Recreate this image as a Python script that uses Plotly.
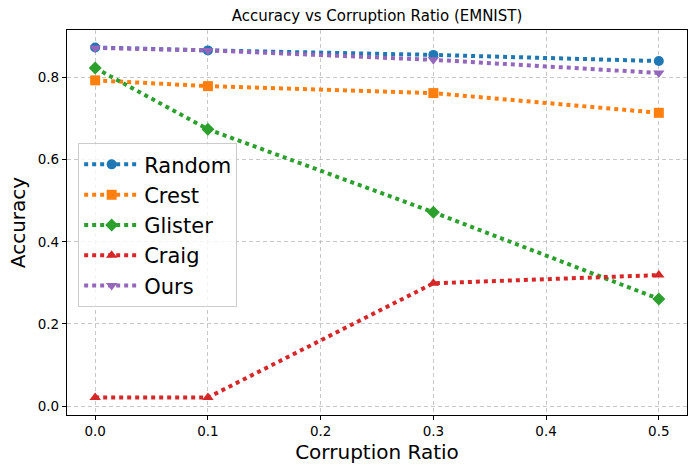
import plotly.graph_objects as go

ratios = [0.0, 0.1, 0.3, 0.5]
random_acc = [0.873, 0.866, 0.855, 0.840]
crest_acc = [0.793, 0.779, 0.762, 0.714]
glister_acc = [0.823, 0.674, 0.472, 0.261]
craig_acc = [0.021, 0.021, 0.299, 0.319]
ours_acc = [0.872, 0.866, 0.843, 0.811]

series = [
    ("Random", random_acc, "#1f77b4", "circle"),
    ("Crest", crest_acc, "#ff7f0e", "square"),
    ("Glister", glister_acc, "#2ca02c", "diamond"),
    ("Craig", craig_acc, "#d62728", "triangle-up"),
    ("Ours", ours_acc, "#9467bd", "triangle-down"),
]

font = "DejaVu Sans"
fig = go.Figure()
for name, vals, color, sym in series:
    fig.add_trace(go.Scatter(
        x=ratios, y=vals, name=name, mode="lines+markers",
        line=dict(color=color, width=4, dash="dot"),
        marker=dict(color=color, symbol=sym, size=10, line=dict(width=0)),
    ))

axis_common = dict(
    showline=True, linecolor="black", linewidth=1.2, mirror=True,
    ticks="outside", ticklen=4, tickcolor="black", tickwidth=1,
    showgrid=True, gridcolor="rgba(176,176,176,0.7)", griddash="4px,3px", gridwidth=1,
    zeroline=False, tickfont=dict(family=font, size=13.5, color="black"),
    automargin=False,
)

fig.update_layout(
    width=697, height=474,
    margin=dict(l=67, r=10, t=30, b=59),
    paper_bgcolor="white", plot_bgcolor="white",
    font=dict(family=font, color="black"),
    title=dict(text="Accuracy vs Corruption Ratio (EMNIST)", x=0.5, xref="paper",
               y=1 - 16 / 474, yref="container", yanchor="middle",
               font=dict(family=font, size=15, color="black")),
    xaxis=dict(range=[-0.025, 0.525], tickvals=[0, 0.1, 0.2, 0.3, 0.4, 0.5],
               ticktext=["0.0", "0.1", "0.2", "0.3", "0.4", "0.5"],
               title=dict(text="Corruption Ratio", font=dict(family=font, size=20), standoff=6),
               **axis_common),
    yaxis=dict(range=[-0.0216, 0.9156], tickvals=[0, 0.2, 0.4, 0.6, 0.8],
               ticktext=["0.0", "0.2", "0.4", "0.6", "0.8"],
               title=dict(text="Accuracy", font=dict(family=font, size=20), standoff=6),
               **axis_common),
    legend=dict(x=0.018, y=0.706, xanchor="left", yanchor="top",
                bgcolor="rgba(255,255,255,0.8)", bordercolor="#cccccc", borderwidth=1,
                font=dict(family=font, size=21, color="black"), tracegroupgap=0,
                itemwidth=55),
)

fig.write_html("out.html", config={"displayModeBar": False},
               post_script="document.body.style.margin='0';document.body.style.overflow='hidden';")
